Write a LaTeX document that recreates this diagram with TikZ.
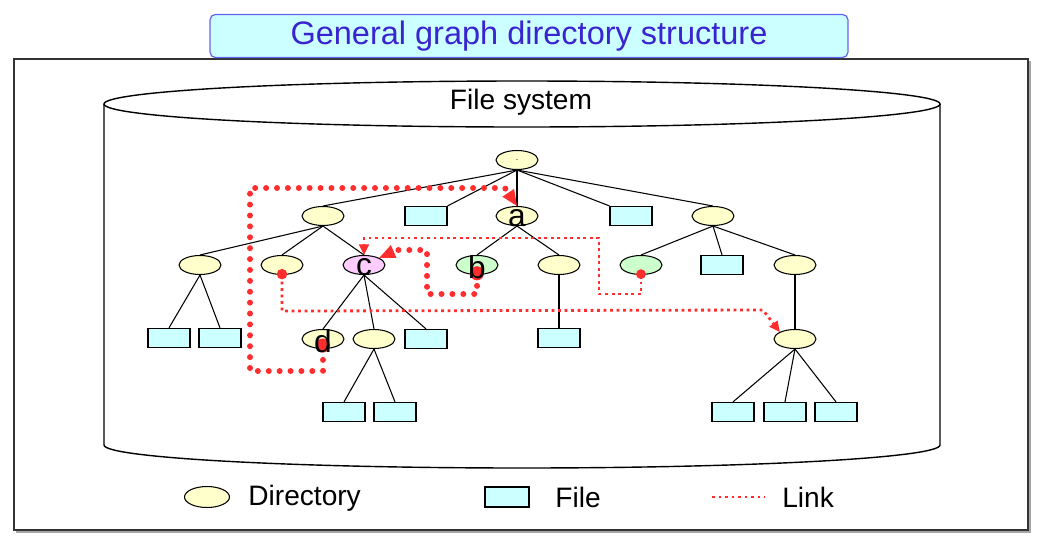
\documentclass[tikz,border=0pt]{standalone}
\usepackage{fontspec}
\setmainfont{Liberation Sans}
\usetikzlibrary{shapes.geometric,arrows.meta}
\definecolor{dircol}{RGB}{255,255,204}
\definecolor{filecol}{RGB}{204,255,255}
\definecolor{pinkcol}{RGB}{255,204,255}
\definecolor{greencol}{RGB}{204,255,204}
\definecolor{linkred}{RGB}{255,45,45}
\definecolor{titleblue}{RGB}{58,36,208}
\definecolor{titleline}{RGB}{100,100,240}
\begin{document}
\begin{tikzpicture}[x=0.02cm,y=-0.02cm,
 dir/.style={ellipse,draw,fill=dircol,minimum width=0.84cm,minimum height=0.38cm,inner sep=0pt,line width=0.6pt},
 fil/.style={rectangle,draw,fill=filecol,minimum width=0.84cm,minimum height=0.38cm,inner sep=0pt,line width=0.7pt},
 edge/.style={line width=0.6pt},
 vedge/.style={line width=1.1pt},
 lbl/.style={inner sep=0pt,yshift=-1.5pt,font=\fontsize{18}{20}\selectfont},
 txt/.style={inner sep=0pt,font=\fontsize{16}{18}\selectfont},
 biglink/.style={linkred,line width=3.4pt,line cap=round,dash pattern=on 0pt off 6.2pt,
  -{Triangle[length=9pt,width=8pt,line width=0pt]}},
 thinlink/.style={linkred,line width=1.6pt,dash pattern=on 1.6pt off 2.1pt,
  -{Triangle[length=6pt,width=6pt,line width=0pt]}},
 dot/.style={fill=linkred}]
 \useasboundingbox (0,0) rectangle (1042,545);
 \draw[black!35,line width=1.4pt] (17,62) rectangle (1030,532);
 \draw[draw=black!80,fill=white,line width=0.9pt] (14,59) rectangle (1028,530);
 \node[rectangle,rounded corners=3pt,draw=titleline,fill=filecol,line width=0.7pt,
  minimum width=12.76cm,minimum height=0.86cm,text=titleblue,
  font=\fontsize{18.5}{22}\selectfont] (title) at (529,36) {General graph directory structure};
 \draw[line width=0.8pt,fill=white] (104,104) -- (104,445)
  arc[start angle=180,end angle=0,x radius=418,y radius=23] -- (940,104);
 \draw[line width=0.8pt,fill=white] (522,104) ellipse [x radius=418,y radius=23];
 \node[txt] (fs) at (521,102) {File system};
 \node[dir,font=\tiny] (root) at (517,160) {.};
 \node[dir] (l1a) at (323,216) {};
 \node[fil] (f1) at (426,216) {};
 \node[dir] (a) at (517,216) {};
 \node[fil] (f2) at (631,216) {};
 \node[dir] (l1e) at (713,216) {};
 \node[dir] (l2a) at (200,265) {};
 \node[dir] (l2b) at (282,265) {};
 \node[dir,fill=pinkcol] (c) at (364,265) {};
 \node[dir,fill=greencol] (b) at (477,265) {};
 \node[dir] (l2e) at (559,265) {};
 \node[dir,fill=greencol] (g) at (641,265) {};
 \node[fil] (f3) at (722,265) {};
 \node[dir] (l2h) at (795,265) {};
 \node[fil] (f4) at (169,338) {};
 \node[fil] (f5) at (220,338) {};
 \node[dir] (d) at (323,339) {};
 \node[dir] (l3) at (374,339) {};
 \node[fil] (f6) at (426,339) {};
 \node[fil] (f7) at (559,338) {};
 \node[dir] (l3r) at (795,339) {};
 \node[fil] (f8) at (344,412) {};
 \node[fil] (f9) at (395,412) {};
 \node[fil] (f10) at (733,412) {};
 \node[fil] (f11) at (785,412) {};
 \node[fil] (f12) at (836,412) {};
 \draw[edge] (root.south) -- (l1a.north);
 \draw[edge] (root.south) -- (f1.north east);
 \draw[vedge] (root.south) -- (a.north);
 \draw[edge] (root.south) -- (f2.north west);
 \draw[edge] (root.south) -- (l1e.north);
 \draw[edge] (l1a.south) -- (l2a.north);
 \draw[edge] (l1a.south) -- (l2b.north);
 \draw[edge] (l1a.south) -- (c.north);
 \draw[edge] (a.south) -- (b.north);
 \draw[edge] (a.south) -- (l2e.north);
 \draw[edge] (l1e.south) -- (g.north);
 \draw[edge] (l1e.south) -- (f3.north);
 \draw[edge] (l1e.south) -- (l2h.north);
 \draw[edge] (l2a.south) -- (f4.north);
 \draw[edge] (l2a.south) -- (f5.north);
 \draw[edge] (c.south) -- (d.north);
 \draw[edge] (c.south) -- (l3.north);
 \draw[edge] (c.south) -- (f6.north);
 \draw[edge] (l3.south) -- (f8.north);
 \draw[edge] (l3.south) -- (f9.north);
 \draw[vedge] (l2e.south) -- (f7.north);
 \draw[vedge] (l2h.south) -- (l3r.north);
 \draw[edge] (l3r.south) -- (f10.north);
 \draw[edge] (l3r.south) -- (f11.north);
 \draw[edge] (l3r.south) -- (f12.north);
 \draw[thinlink] (g.south) -- ++(0,19) -| (599,238) -| (c.north);
 \draw[thinlink] (l2b.south) -- ++(0,36) -- (763,310) -- (l3r.north west);
 \draw[biglink] (d.south) -- ++(0,22) -| (250,188) -- (505,188) -- (a.north);
 \draw[biglink] (b.south) -- ++(0,19) -| (427,250) -- (397,250) -- (c.north east);
 \fill[dot] ([yshift=2pt]d.south) circle[radius=4pt];
 \fill[dot] ([yshift=1pt]b.south) circle[radius=4pt];
 \fill[dot] ([yshift=0.5pt]l2b.south) circle[radius=3pt];
 \fill[dot] ([yshift=0.5pt]g.south) circle[radius=2.8pt];
 \node[lbl] (la) at (a) {a};
 \node[lbl] (lb) at (b) {b};
 \node[lbl] (lc) at (c) {c};
 \node[lbl] (ld) at (d) {d};
 \node[dir,minimum width=0.9cm,minimum height=0.42cm] (legdir) at (207,497) {};
 \node[txt,anchor=west] (legdirtxt) at (248,498) {Directory};
 \node[fil,minimum width=0.88cm,minimum height=0.4cm] (legfile) at (507,497) {};
 \node[txt,anchor=west] (legfiletxt) at (555,497) {File};
 \coordinate (lk1) at (712,497);
 \coordinate (lk2) at (765,497);
 \draw[linkred,line width=1.6pt,dash pattern=on 1.6pt off 2.1pt] (lk1) -- (lk2);
 \node[txt,anchor=west] (legrlinktxt) at (782,497) {Link};
\end{tikzpicture}
\end{document}
